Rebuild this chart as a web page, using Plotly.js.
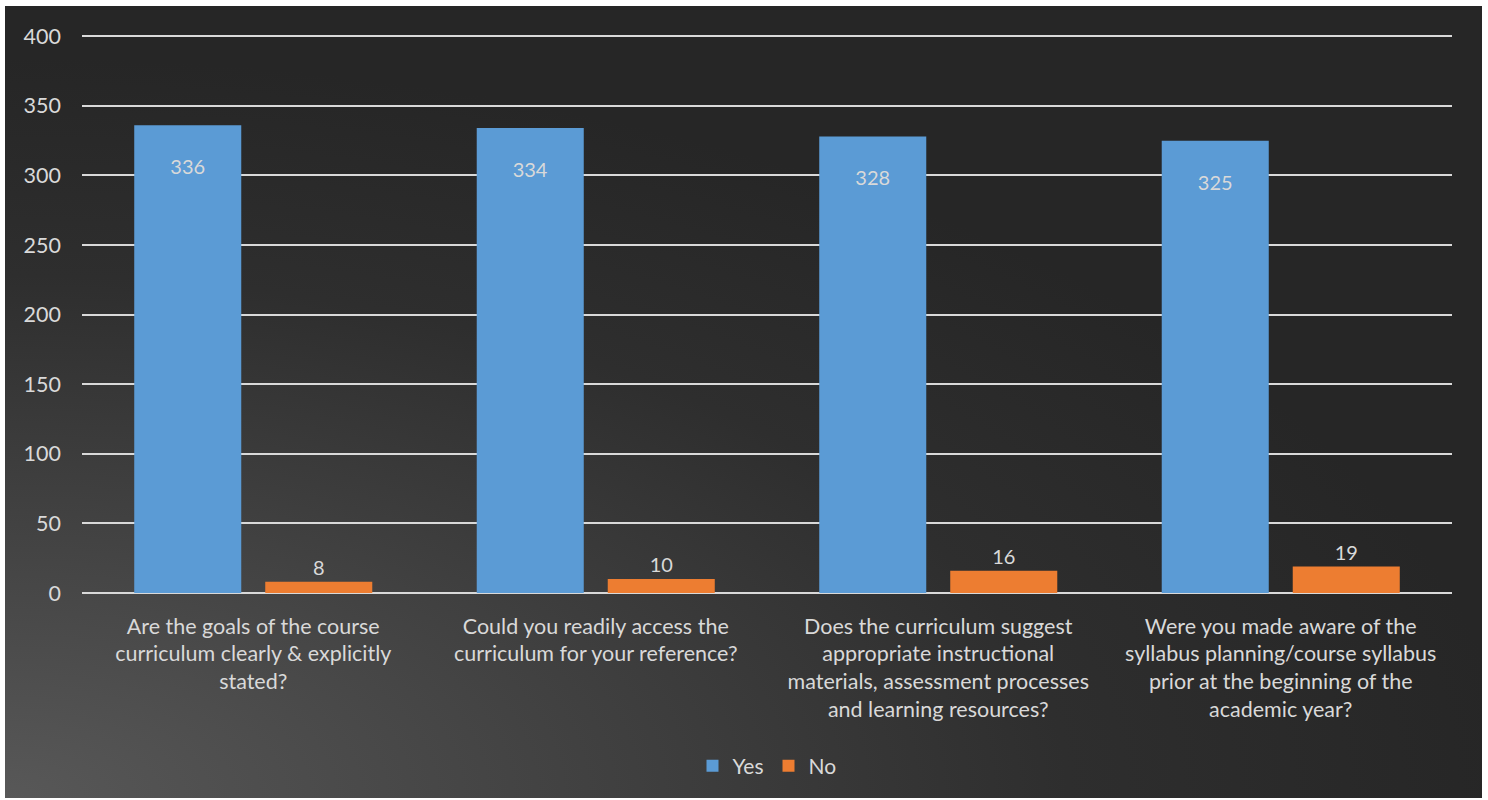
<!DOCTYPE html>
<html>
<head>
<meta charset="utf-8">
<script src="https://cdn.plot.ly/plotly-3.0.1.min.js"></script>
<style>
  html, body { margin: 0; padding: 0; background: #ffffff; }
  #chart {
    position: absolute; left: 5px; top: 6px; width: 1477px; height: 792px;
    background: radial-gradient(ellipse 120% 110% at 0% 100%, #585858 0%, #434343 30%, #2e2e2e 60%, #262626 85%);
  }
</style>
</head>
<body>
<div id="chart"></div>
<script>
const categories = [
  "Are the goals of the course<br>curriculum clearly & explicitly<br>stated?",
  "Could you readily access the<br>curriculum for your reference?",
  "Does the curriculum suggest<br>appropriate instructional<br>materials, assessment processes<br>and learning resources?",
  "Were you made aware of the<br>syllabus planning/course syllabus<br>prior at the beginning of the<br>academic year?"
];
const yesValues = [336, 334, 328, 325];
const noValues = [8, 10, 16, 19];
const yTicks = [0, 50, 100, 150, 200, 250, 300, 350, 400];

const font = "Lato, 'Open Sans', sans-serif";
const txt = "#d9d9d9";

const traces = [
  {
    type: "bar", name: "Yes", x: categories, y: yesValues,
    marker: { color: "#5b9bd5" },
    text: yesValues.map(String),
    texttemplate: "&nbsp;<br>%{text}",
    textposition: "inside", insidetextanchor: "end", constraintext: "none",
    textfont: { family: font, size: 20, color: txt },
    hoverinfo: "none"
  },
  {
    type: "bar", name: "No", x: categories, y: noValues,
    marker: { color: "#ed7d31" },
    text: noValues.map(String),
    textposition: "outside",
    textfont: { family: font, size: 20, color: txt },
    cliponaxis: false,
    hoverinfo: "none"
  }
];

const layout = {
  width: 1477, height: 792,
  paper_bgcolor: "rgba(0,0,0,0)", plot_bgcolor: "rgba(0,0,0,0)",
  margin: { l: 77, r: 30, t: 29, b: 204 },
  barmode: "group", bargap: 0.235, bargroupgap: 0.183,
  font: { family: font, size: 20, color: txt },
  showlegend: true,
  legend: {
    orientation: "h", x: 0.5, xanchor: "center", y: -0.308, yanchor: "middle",
    font: { family: font, size: 21, color: txt }, itemwidth: 30, traceorder: "normal"
  },
  xaxis: {
    tickfont: { family: font, size: 21.5, color: txt },
    ticklabelstandoff: 18,
    showgrid: false, showline: false, ticks: "", automargin: false
  },
  yaxis: {
    range: [0, 400.9], tickvals: yTicks, ticktext: yTicks.map(String),
    tickfont: { family: font, size: 21.5, color: txt },
    ticklabelstandoff: 20,
    showgrid: true, gridcolor: "#d9d9d9", gridwidth: 2,
    zeroline: true, zerolinecolor: "#d9d9d9", zerolinewidth: 2,
    showline: false, ticks: "", ticklen: 0, automargin: false
  }
};

Plotly.newPlot("chart", traces, layout, { displayModeBar: false, staticPlot: true });
</script>
</body>
</html>
